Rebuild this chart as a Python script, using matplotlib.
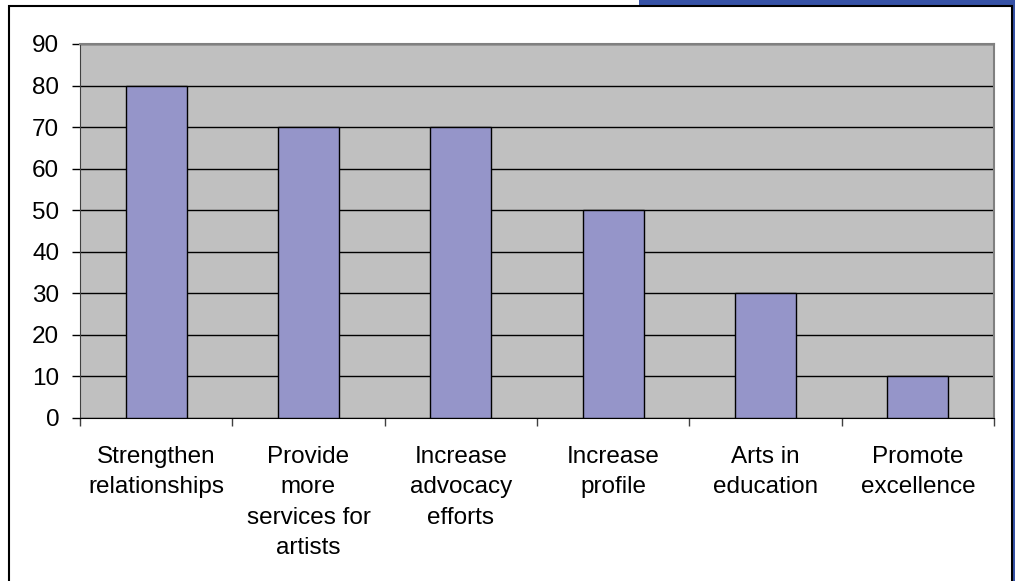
import matplotlib
matplotlib.use("Agg")
import matplotlib.pyplot as plt
from matplotlib.patches import Rectangle

plt.rcParams['font.family'] = ['Liberation Sans', 'DejaVu Sans']

categories = ["Strengthen\nrelationships", "Provide\nmore\nservices for\nartists",
              "Increase\nadvocacy\nefforts", "Increase\nprofile",
              "Arts in\neducation", "Promote\nexcellence"]
values = [80, 70, 70, 50, 30, 10]
yticks = [0, 10, 20, 30, 40, 50, 60, 70, 80, 90]

W, H = 1015, 581
fig = plt.figure(figsize=(W / 100, H / 100), dpi=100, facecolor="white")

# slide background peeking out at the top right
blue = "#3652a6"
fig.add_artist(Rectangle((639 / W, 1 - 6 / H), 1, 6 / H, transform=fig.transFigure,
                         facecolor=blue, edgecolor="none", zorder=0))
fig.add_artist(Rectangle((1012 / W, 0), 3 / W, 1, transform=fig.transFigure,
                         facecolor=blue, edgecolor="none", zorder=0))
# chart frame
fig.add_artist(Rectangle((9 / W, -0.05), 1003 / W, 1.05 - 6 / H, transform=fig.transFigure,
                         facecolor="white", edgecolor="black", linewidth=1.5, zorder=1))

ax = fig.add_axes([80 / W, (H - 418) / H, (994 - 80) / W, (418 - 44) / H], zorder=2)
ax.set_facecolor("#c0c0c0")

x = range(len(values))
ax.bar(x, values, width=0.4, color="#9595c9", edgecolor="black", linewidth=1, zorder=3)

ax.set_xlim(-0.5, len(values) - 0.5)
ax.set_ylim(0, 90)
ax.set_yticks(yticks)
ax.yaxis.grid(True, color="black", linewidth=1)
ax.set_axisbelow(True)

ax.set_xticks(list(x))
ax.set_xticklabels(categories, fontsize=17.5, linespacing=1.5, va="top")
ax.tick_params(axis="x", which="major", length=0, pad=20)
ax.set_xticks([i - 0.5 for i in range(len(values) + 1)], minor=True)
ax.tick_params(axis="x", which="minor", length=6, width=1, color="#404040")
ax.tick_params(axis="y", length=6, width=1, pad=9, labelsize=17.5)

for side in ("top", "right"):
    ax.spines[side].set_color("#808080")
    ax.spines[side].set_linewidth(1.5)
ax.spines["left"].set_color("#404040")
ax.spines["bottom"].set_color("black")

fig.savefig("out.png", dpi=100)
